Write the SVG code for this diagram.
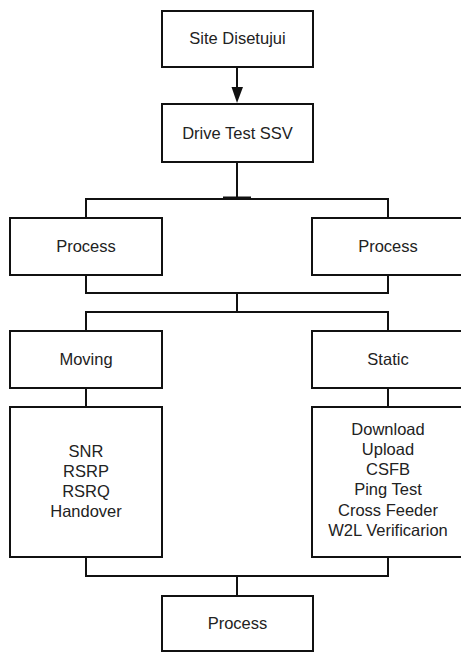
<svg xmlns="http://www.w3.org/2000/svg" width="461" height="652" viewBox="0 0 461 652">
  <style>
    .box { fill: #ffffff; stroke: #111111; stroke-width: 2; }
    .lbl { font-family: "Liberation Sans", Arial, sans-serif; font-size: 16.5px; fill: #222222; text-anchor: middle; }
    .wire { fill: none; stroke: #111111; stroke-width: 2; }
  </style>
  <defs>
    <marker id="arrow" markerWidth="12" markerHeight="16" refX="6" refY="16" orient="auto-start-reverse" markerUnits="userSpaceOnUse" viewBox="0 0 12 16">
      <path d="M0,0 L12,0 L6,16 Z" fill="#111111"/>
    </marker>
  </defs>
  <rect width="461" height="652" fill="#ffffff"/>

  <g id="connectors">
    <path class="wire" d="M237,67 V87" />
    <path d="M231.5,87 L243,87 L237,103 Z" fill="#111111"/>
    <path class="wire" d="M237,162 V199" />
    <path class="wire" d="M223,197.5 H251" />
    <path class="wire" d="M86,218 V199 H388 V218" />
    <path class="wire" d="M86,275 V293 H388 V275" />
    <path class="wire" d="M237,293 V312" />
    <path class="wire" d="M86,331 V312 H388 V331" />
    <path class="wire" d="M86,388 V407" />
    <path class="wire" d="M388,388 V407" />
    <path class="wire" d="M86,557 V576 H388 V557" />
    <path class="wire" d="M237,576 V596" />
  </g>

  <g id="site-disetujui">
    <rect class="box" x="162" y="11" width="151" height="56"/>
    <text class="lbl" x="237.5" y="44">Site Disetujui</text>
  </g>
  <g id="drive-test-ssv">
    <rect class="box" x="162" y="104" width="151" height="58"/>
    <text class="lbl" x="237.5" y="138.5">Drive Test SSV</text>
  </g>
  <g id="process-left">
    <rect class="box" x="10" y="218" width="152" height="57"/>
    <text class="lbl" x="86" y="252">Process</text>
  </g>
  <g id="process-right">
    <rect class="box" x="312" y="218" width="152" height="57"/>
    <text class="lbl" x="388" y="252">Process</text>
  </g>
  <g id="moving">
    <rect class="box" x="10" y="331" width="152" height="57"/>
    <text class="lbl" x="86" y="365">Moving</text>
  </g>
  <g id="static">
    <rect class="box" x="312" y="331" width="152" height="57"/>
    <text class="lbl" x="388" y="365">Static</text>
  </g>
  <g id="moving-params">
    <rect class="box" x="10" y="407" width="152" height="150"/>
    <text class="lbl" x="86" y="457">SNR</text>
    <text class="lbl" x="86" y="477">RSRP</text>
    <text class="lbl" x="86" y="497">RSRQ</text>
    <text class="lbl" x="86" y="517">Handover</text>
  </g>
  <g id="static-params">
    <rect class="box" x="312" y="407" width="152" height="150"/>
    <text class="lbl" x="388" y="434.5">Download</text>
    <text class="lbl" x="388" y="454.8">Upload</text>
    <text class="lbl" x="388" y="475.1">CSFB</text>
    <text class="lbl" x="388" y="495.4">Ping Test</text>
    <text class="lbl" x="388" y="515.7">Cross Feeder</text>
    <text class="lbl" x="388" y="536">W2L Verificarion</text>
  </g>
  <g id="process-final">
    <rect class="box" x="162" y="596" width="151" height="55"/>
    <text class="lbl" x="237.5" y="629">Process</text>
  </g>
</svg>
